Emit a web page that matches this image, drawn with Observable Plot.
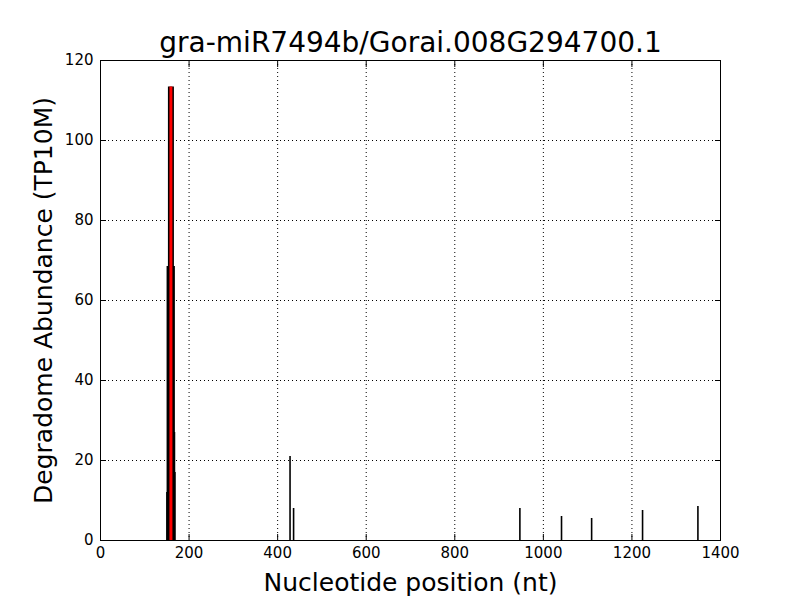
<!DOCTYPE html>
<html>
<head>
<meta charset="utf-8">
<script src="https://cdn.jsdelivr.net/npm/d3@7"></script>
<script src="https://cdn.jsdelivr.net/npm/@observablehq/plot@0.6"></script>
<style>
  html, body { margin: 0; padding: 0; background: #fff; }
  #chart svg { display: block; }
</style>
</head>
<body>
<div id="chart"></div>
<script>
const title = "gra-miR7494b/Gorai.008G294700.1";
const xLabel = "Nucleotide position (nt)";
const yLabel = "Degradome Abundance (TP10M)";

// Degradome peaks (position nt, abundance TP10M)
const peakPos = [150, 151, 152, 153, 154, 155, 156, 157, 158, 159, 160, 161, 162, 163, 164, 165, 166, 167, 168, 428, 436, 947, 1041, 1109, 1224, 1349];
const peakVal = [12, 68.5, 68.5, 68.5, 68.5, 68.5, 68.5, 68.5, 68.5, 68.5, 68.5, 68.5, 68.5, 68.5, 68.5, 68.5, 68.5, 27, 17, 21, 8, 8, 6, 5.5, 7.5, 8.5];

// miRNA cleavage site
const sitePos = [159];
const siteVal = [113.4];

const xTicks = [0, 200, 400, 600, 800, 1000, 1200, 1400];
const yTicks = [0, 20, 40, 60, 80, 100, 120];

const peaks = peakPos.map((p, i) => ({pos: p, val: peakVal[i]}));
const site = sitePos.map((p, i) => ({pos: p, val: siteVal[i]}));

const font = "DejaVu Sans, sans-serif";
const fmt = d3.format("d");

const chart = Plot.plot({
  width: 800,
  height: 600,
  marginLeft: 100,
  marginRight: 80,
  marginTop: 60,
  marginBottom: 60,
  style: {fontFamily: font, fontSize: "15px", color: "black", background: "white"},
  x: {domain: [0, 1400], ticks: xTicks, label: null},
  y: {domain: [0, 120], ticks: yTicks, label: null},
  marks: [
    Plot.gridX(xTicks, {stroke: "black", strokeOpacity: 1, strokeDasharray: "1,3"}),
    Plot.gridY(yTicks, {stroke: "black", strokeOpacity: 1, strokeDasharray: "1,3"}),
    Plot.ruleX(peaks, {x: "pos", y1: 0, y2: "val", stroke: "black", strokeWidth: 1.6}),
    Plot.ruleX(site, {x: "pos", y1: 0, y2: "val", stroke: "black", strokeWidth: 6}),
    Plot.ruleX(site, {x: "pos", y1: 0, y2: "val", stroke: "red", strokeWidth: 3}),
    // tick labels
    Plot.axisX(xTicks, {anchor: "bottom", tickSize: 0, tickPadding: 7, fontSize: 15, tickFormat: fmt, label: null}),
    Plot.axisY(yTicks, {anchor: "left", tickSize: 0, tickPadding: 7, fontSize: 15, tickFormat: fmt, label: null}),
    // inward ticks on all sides
    Plot.axisX(xTicks, {anchor: "bottom", tickSize: -6, tickFormat: () => "", label: null}),
    Plot.axisX(xTicks, {anchor: "top", tickSize: -6, tickFormat: () => "", label: null}),
    Plot.axisY(yTicks, {anchor: "left", tickSize: -6, tickFormat: () => "", label: null}),
    Plot.axisY(yTicks, {anchor: "right", tickSize: -6, tickFormat: () => "", label: null}),
    Plot.frame({stroke: "black", strokeWidth: 1}),
    Plot.text([title], {frameAnchor: "top", dy: -17, fontSize: 28, fill: "black", textAnchor: "middle", lineAnchor: "middle"}),
    Plot.text([xLabel], {frameAnchor: "bottom", dy: 42, fontSize: 25, fill: "black", textAnchor: "middle", lineAnchor: "middle"}),
    Plot.text([yLabel], {frameAnchor: "left", dx: -57, rotate: -90, fontSize: 25, fill: "black", textAnchor: "middle", lineAnchor: "middle"})
  ]
});

document.getElementById("chart").appendChild(chart);
</script>
</body>
</html>
